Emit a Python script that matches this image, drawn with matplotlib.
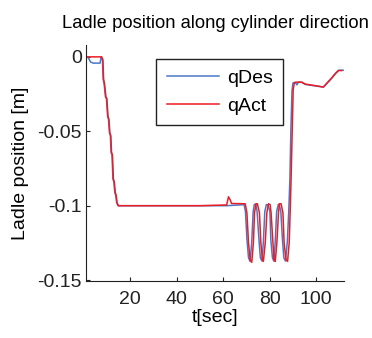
import matplotlib.pyplot as plt

plt.rcParams['font.family'] = ['Liberation Sans', 'DejaVu Sans']

# desired ladle position (qDes)
t_des = [1.0, 2.0, 3.0, 4.2, 7.1, 7.5, 8.1, 8.4, 8.8, 9.4, 9.8, 10.3, 10.7, 11.1,
         11.5, 11.8, 12.2, 12.6, 13.0, 13.4, 13.8, 14.2, 14.8, 30.0, 50.0, 61.5,
         69.0, 69.6, 70.2, 70.9, 71.6, 72.3, 72.9, 73.4, 74.0, 74.6, 75.4, 76.0,
         76.7, 77.3, 77.9, 78.6, 79.3, 80.1, 80.5, 81.2, 81.8, 82.4, 83.0, 83.7,
         84.1, 84.8, 85.5, 86.1, 86.8, 87.6, 88.2, 88.7, 89.1, 89.6, 90.0, 90.5,
         91.0, 91.7, 92.4, 93.9, 95.3, 97.4, 101.7, 103.1, 106.7, 108.2, 109.6, 111.6]
q_des = [0.0, -0.0005, -0.0035, -0.0042, -0.0042, 0.0, -0.002, -0.015, -0.018,
         -0.027, -0.028, -0.040, -0.042, -0.051, -0.053, -0.064, -0.066, -0.082,
         -0.084, -0.091, -0.093, -0.098, -0.1, -0.1, -0.1, -0.1,
         -0.0993, -0.104, -0.122, -0.135, -0.1375, -0.124, -0.104, -0.0992, -0.0990,
         -0.104, -0.123, -0.135, -0.1372, -0.124, -0.104, -0.0992, -0.0995,
         -0.104, -0.123, -0.135, -0.1372, -0.124, -0.104, -0.0992, -0.0990,
         -0.104, -0.123, -0.135, -0.1372, -0.124, -0.104, -0.082, -0.050, -0.023,
         -0.0176, -0.0172, -0.0172, -0.0188, -0.017, -0.0172, -0.0185, -0.0190,
         -0.0200, -0.0203, -0.0140, -0.0112, -0.0090, -0.0090]

# actual ladle position (qAct)
t_act = [1.0, 7.8, 8.3, 8.6, 9.0, 9.6, 10.0, 10.5, 10.9, 11.3, 11.7, 12.0, 12.4,
         12.8, 13.2, 13.6, 14.0, 14.4, 15.0, 30.0, 50.0, 61.5, 62.3, 63.0, 63.6,
         69.5, 70.2, 70.9, 71.6, 72.3, 73.0, 73.5, 74.1, 74.7, 75.6, 76.2, 76.9,
         77.3, 78.1, 78.8, 79.5, 80.2, 80.6, 81.4, 81.9, 82.4, 83.1, 83.8, 84.2,
         84.9, 85.7, 86.2, 87.0, 87.7, 88.4, 88.8, 89.2, 89.7, 90.1, 90.6, 91.3,
         93.9, 95.3, 97.4, 101.7, 103.1, 106.7, 108.2, 109.6, 111.0]
q_act = [0.0, 0.0, -0.002, -0.015, -0.018, -0.027, -0.028, -0.040, -0.042,
         -0.051, -0.053, -0.064, -0.066, -0.082, -0.084, -0.091, -0.093, -0.098,
         -0.1, -0.1, -0.1, -0.0995, -0.094, -0.096, -0.0985,
         -0.0987, -0.1047, -0.1248, -0.1362, -0.138, -0.1248, -0.1047, -0.0987,
         -0.0987, -0.1047, -0.1248, -0.1362, -0.1374, -0.1248, -0.1047, -0.0987,
         -0.0993, -0.1047, -0.1248, -0.1362, -0.1374, -0.1248, -0.1047, -0.0987,
         -0.0987, -0.1047, -0.1248, -0.1362, -0.1374, -0.1248, -0.1047, -0.0826,
         -0.049, -0.022, -0.0174, -0.017, -0.017, -0.0183, -0.0188, -0.0199,
         -0.0203, -0.0143, -0.0114, -0.0092, -0.0092]

x_ticks = [20, 40, 60, 80, 100]
y_ticks = [0, -0.05, -0.1, -0.15]
y_ticklabels = ['0', '-0.05', '-0.1', '-0.15']

fig = plt.figure(figsize=(3.72, 3.38), dpi=100)
ax = fig.add_axes([0.231, 0.169, 0.694, 0.698])

ax.plot(t_des, q_des, color='#4a78c8', lw=1.1, label='qDes')
ax.plot(t_act, q_act, color='#ec1c24', lw=1.1, label='qAct')

ax.set_xlim(1, 112)
ax.set_ylim(-0.1505, 0.008)
ax.set_xticks(x_ticks)
ax.set_yticks(y_ticks)
ax.set_yticklabels(y_ticklabels)
ax.tick_params(direction='in', length=3, labelsize=14, colors='#222222', width=0.8)
ax.tick_params(axis='x', pad=7)
ax.tick_params(axis='y', pad=3)
for s in ['top', 'right']:
    ax.spines[s].set_visible(False)
for s in ['left', 'bottom']:
    ax.spines[s].set_color('#222222')
    ax.spines[s].set_linewidth(0.8)

ax.set_title('Ladle position along cylinder direction', fontsize=13.2, pad=12)
ax.set_xlabel('t[sec]', fontsize=14, labelpad=1)
ax.set_ylabel('Ladle position [m]', fontsize=14, labelpad=6)

leg = ax.legend(loc='upper left', bbox_to_anchor=(0.271, 0.941), borderaxespad=0,
                fontsize=14, handlelength=2.7, handletextpad=0.4, labelspacing=0.5,
                borderpad=0.55, fancybox=False, framealpha=1)
leg.get_frame().set_edgecolor('#222222')
leg.get_frame().set_linewidth(1.0)

fig.savefig('out.png', dpi=100)
